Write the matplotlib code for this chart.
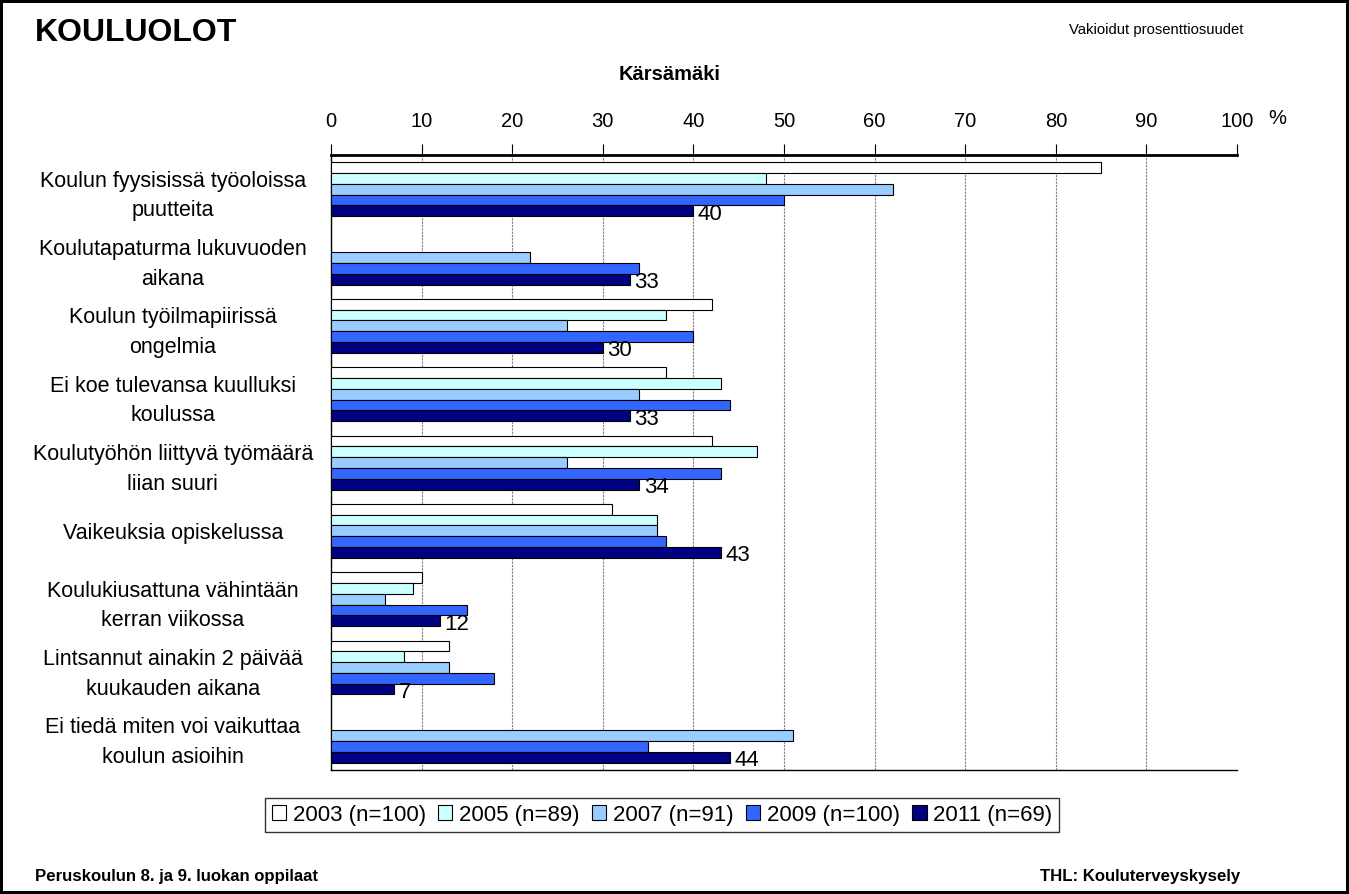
import matplotlib.pyplot as plt
import numpy as np

plt.rcParams['font.family'] = ['Liberation Sans', 'DejaVu Sans']

categories = [
    "Koulun fyysisissä työoloissa\npuutteita",
    "Koulutapaturma lukuvuoden\naikana",
    "Koulun työilmapiirissä\nongelmia",
    "Ei koe tulevansa kuulluksi\nkoulussa",
    "Koulutyöhön liittyvä työmäärä\nliian suuri",
    "Vaikeuksia opiskelussa",
    "Koulukiusattuna vähintään\nkerran viikossa",
    "Lintsannut ainakin 2 päivää\nkuukauden aikana",
    "Ei tiedä miten voi vaikuttaa\nkoulun asioihin",
]
series_names = ["2003 (n=100)", "2005 (n=89)", "2007 (n=91)", "2009 (n=100)", "2011 (n=69)"]
v2003 = [85, None, 42, 37, 42, 31, 10, 13, None]
v2005 = [48, None, 37, 43, 47, 36, 9, 8, None]
v2007 = [62, 22, 26, 34, 26, 36, 6, 13, 51]
v2009 = [50, 34, 40, 44, 43, 37, 15, 18, 35]
v2011 = [40, 33, 30, 33, 34, 43, 12, 7, 44]
colors = ["#FFFFFF", "#CCFFFF", "#99CCFF", "#3366FF", "#000080"]

series = [v2003, v2005, v2007, v2009, v2011]

fig = plt.figure(figsize=(13.49, 8.94), dpi=100)
fig.patch.set_edgecolor("black")
fig.patch.set_linewidth(4)
ax = fig.add_axes([0.2454, 0.1387, 0.6716, 0.6879])

y = np.arange(len(categories))
h = 0.158
for i, (vals, col, name) in enumerate(zip(series, colors, series_names)):
    ys = y - 2 * h + i * h
    xs = [np.nan if v is None else v for v in vals]
    ax.barh(ys, xs, height=h, color=col, edgecolor="black", linewidth=0.8,
            label=name, zorder=3)
    if i == len(series) - 1:
        # only the latest year gets value labels
        for yy, v in zip(ys, vals):
            if v is not None:
                ax.text(v + 0.5, yy + 0.05, str(v), va="center", ha="left",
                        fontsize=16, zorder=4)

ax.set_xlim(0, 100)
ax.set_ylim(len(categories) - 0.5, -0.5)
ax.xaxis.tick_top()
ax.set_xticks(range(0, 101, 10))
ax.tick_params(axis="x", direction="out", length=8, pad=9, labelsize=14.5, width=0.8)
ax.set_yticks(y)
ax.set_yticklabels(categories, fontsize=15.5, ha="center", multialignment="center",
                   linespacing=1.55)
ax.tick_params(axis="y", length=0, pad=114)
for gx in range(10, 100, 10):
    ax.axvline(gx, color="#808080", linestyle=(0, (2, 1)), linewidth=0.8, zorder=1)
ax.spines["right"].set_visible(False)
ax.spines["top"].set_linewidth(2)
ax.spines["left"].set_linewidth(1)
ax.spines["bottom"].set_linewidth(1)

fig.text(1277 / 1349, 1 - 118 / 894, "%", fontsize=14.5, ha="center", va="center")
fig.text(35 / 1349, 1 - 33 / 894, "KOULUOLOT", fontsize=23, fontweight="bold",
         ha="left", va="center")
fig.text(1156 / 1349, 1 - 30 / 894, "Vakioidut prosenttiosuudet", fontsize=10.7,
         ha="center", va="center")
fig.text(670 / 1349, 1 - 75 / 894, "Kärsämäki", fontsize=14.5, fontweight="bold",
         ha="center", va="center")
fig.text(35 / 1349, 1 - 876 / 894, "Peruskoulun 8. ja 9. luokan oppilaat", fontsize=12.1,
         fontweight="bold", ha="left", va="center")
fig.text(1240 / 1349, 1 - 876 / 894, "THL: Kouluterveyskysely", fontsize=12.1,
         fontweight="bold", ha="right", va="center")

leg = fig.legend(loc="center", bbox_to_anchor=(662 / 1349, 1 - 815 / 894), ncol=5,
                 fontsize=16, frameon=True, fancybox=False, edgecolor="black",
                 handlelength=0.65, handleheight=0.65, handletextpad=0.3,
                 columnspacing=0.55, borderpad=0.3)
leg.get_frame().set_linewidth(1)

fig.savefig("out.png", dpi=100)
